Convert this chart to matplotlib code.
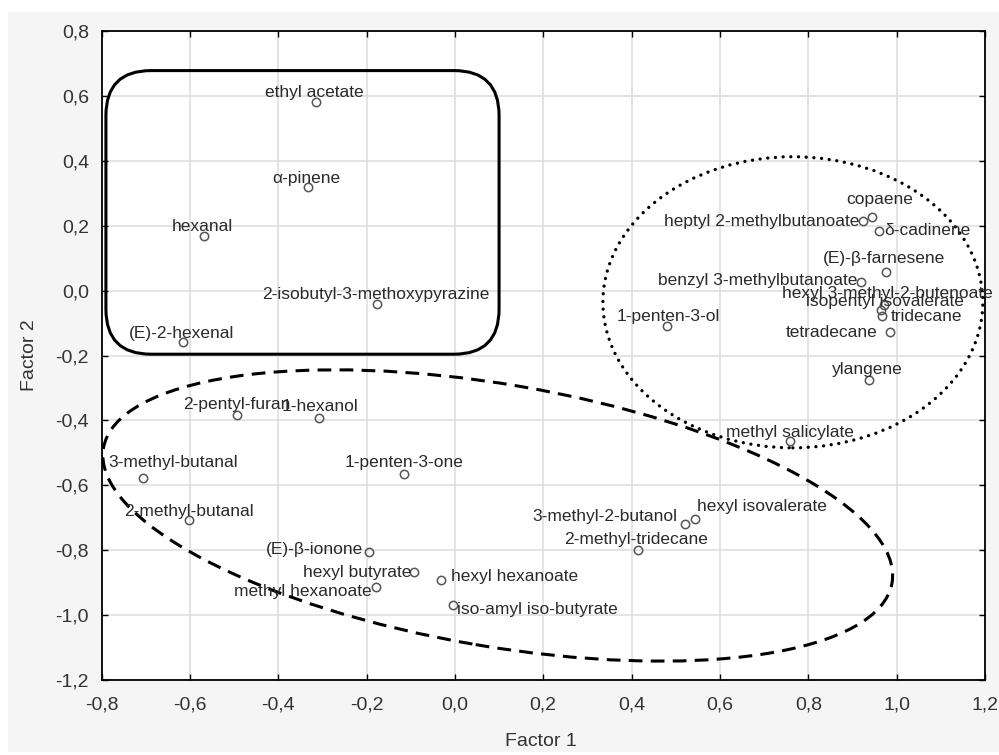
import numpy as np
import matplotlib
matplotlib.use("Agg")
import matplotlib.pyplot as plt
from matplotlib.patches import FancyBboxPatch, Ellipse, Rectangle
from matplotlib.transforms import Affine2D
from matplotlib.ticker import FuncFormatter

plt.rcParams['font.family'] = ['Liberation Sans', 'DejaVu Sans']

# factor loadings
compounds = [
    'ethyl acetate', 'α-pinene', 'hexanal', '2-isobutyl-3-methoxypyrazine', '(E)-2-hexenal',
    'copaene', 'heptyl 2-methylbutanoate', 'δ-cadinene', '(E)-β-farnesene',
    'benzyl 3-methylbutanoate', 'hexyl 3-methyl-2-butenoate', 'isopentyl isovalerate',
    'tridecane', 'tetradecane', 'ylangene', '1-penten-3-ol', 'methyl salicylate',
    '2-pentyl-furan', '1-hexanol', '3-methyl-butanal', '2-methyl-butanal', '1-penten-3-one',
    '(E)-β-ionone', 'hexyl butyrate', 'methyl hexanoate', 'hexyl hexanoate',
    'iso-amyl iso-butyrate', '3-methyl-2-butanol', 'hexyl isovalerate', '2-methyl-tridecane',
]
factor1 = [-0.314, -0.333, -0.569, -0.177, -0.616,
           0.945, 0.924, 0.960, 0.976,
           0.920, 0.971, 0.964,
           0.966, 0.986, 0.938, 0.480, 0.758,
           -0.494, -0.308, -0.707, -0.602, -0.115,
           -0.194, -0.093, -0.179, -0.032,
           -0.004, 0.520, 0.543, 0.415]
factor2 = [0.581, 0.320, 0.167, -0.041, -0.159,
           0.226, 0.214, 0.185, 0.058,
           0.027, -0.043, -0.059,
           -0.079, -0.129, -0.274, -0.110, -0.462,
           -0.382, -0.394, -0.579, -0.707, -0.564,
           -0.807, -0.868, -0.913, -0.893,
           -0.968, -0.718, -0.703, -0.798]

# label placement: offset in pixels (dx, dy) and horizontal alignment
label_pos = [
    (-2, 10, 'center'), (-1, 8, 'center'), (-1, 10, 'center'), (-1, 9, 'center'), (-1, 9, 'center'),
    (7, 18, 'center'), (-4, 0, 'right'), (5, 0, 'left'), (-2, 13, 'center'),
    (-4, 1, 'right'), (4, 11, 'center'), (4, 8, 'center'),
    (9, 0, 'left'), (-13, 0, 'right'), (-2, 10, 'center'), (1, 10, 'center'), (0, 8, 'center'),
    (0, 10, 'center'), (1, 12, 'center'), (31, 16, 'center'), (0, 9, 'center'), (0, 11, 'center'),
    (-6, 3, 'right'), (-2, 0, 'right'), (-4, -5, 'right'), (10, 4, 'left'),
    (4, -5, 'left'), (-7, 7, 'right'), (2, 12, 'left'), (-2, 10, 'center'),
]

fig = plt.figure(figsize=(9.99, 7.55), dpi=100, facecolor='white')
fig.patches.append(Rectangle((8 / 999, 3 / 755), 1, 1 - 15 / 755, transform=fig.transFigure,
                             facecolor='#f5f5f5', edgecolor='none', zorder=-10))
ax = fig.add_axes([101.5 / 999, 75 / 755, 883.5 / 999, 649 / 755])
ax.set_facecolor('white')

ax.set_xlim(-0.8, 1.2)
ax.set_ylim(-1.2, 0.8)
ax.set_xticks(np.arange(-0.8, 1.21, 0.2))
ax.set_yticks(np.arange(-1.2, 0.81, 0.2))
fmt = FuncFormatter(lambda v, p: f"{round(v, 1) + 0.0:.1f}".replace('.', ','))
ax.xaxis.set_major_formatter(fmt)
ax.yaxis.set_major_formatter(fmt)
ax.grid(True, color='#dcdcdc', linewidth=1.1)
ax.set_axisbelow(True)
ax.tick_params(direction='in', top=True, right=True, length=4, width=1, colors='black',
               labelsize=14, labelcolor='#333333')
ax.tick_params(axis='x', pad=12)
ax.tick_params(axis='y', pad=9)
for s in ax.spines.values():
    s.set_linewidth(1.3)

ax.plot(factor1, factor2, 'o', markersize=6, markerfacecolor='none',
        markeredgecolor='#555555', markeredgewidth=1.1, zorder=3)

for name, x, y, (dx, dy, ha) in zip(compounds, factor1, factor2, label_pos):
    ax.annotate(name, (x, y), xytext=(dx, dy), textcoords='offset pixels',
                ha=ha, va='center', fontsize=12.5, color='#2a2a2a',
                annotation_clip=False, zorder=4)

# pixel scale of the axes, used to draw the group outlines like on screen
px_x = 883.5 / 2.0
px_y = 649 / 2.0

# group 1: rounded box
box = FancyBboxPatch((-0.790, -0.196), 0.890, 0.874,
                     boxstyle=f"round,pad=0,rounding_size={45 / px_x}",
                     mutation_aspect=px_x / px_y, facecolor='none',
                     edgecolor='black', linewidth=2.2, zorder=2)
ax.add_patch(box)

# group 2: dotted ellipse
dots = Ellipse((0.765, -0.036), 0.860, 0.897, facecolor='none', edgecolor='black',
               linewidth=2.4, linestyle=(0, (0.01, 2.3)), capstyle='round', zorder=2)
ax.add_patch(dots)

# group 3: tilted dashed ellipse (size in pixels)
tr = Affine2D().scale(1 / px_x, 1 / px_y).translate(0.097, -0.693) + ax.transData
dash = Ellipse((0, 0), 800, 262, angle=-9.7, facecolor='none', edgecolor='black',
               linewidth=2.2, linestyle=(0, (4.5, 2.7)), transform=tr, zorder=2)
ax.add_patch(dash)

fig.text(541 / 999, 1 - 741.5 / 755, 'Factor 1', ha='center', va='center',
         fontsize=14, color='#333333')
fig.text(30 / 999, 1 - 355 / 755, 'Factor 2', ha='center', va='center',
         rotation=90, fontsize=14, color='#333333')

fig.savefig('out.png', dpi=100, facecolor=fig.get_facecolor())
